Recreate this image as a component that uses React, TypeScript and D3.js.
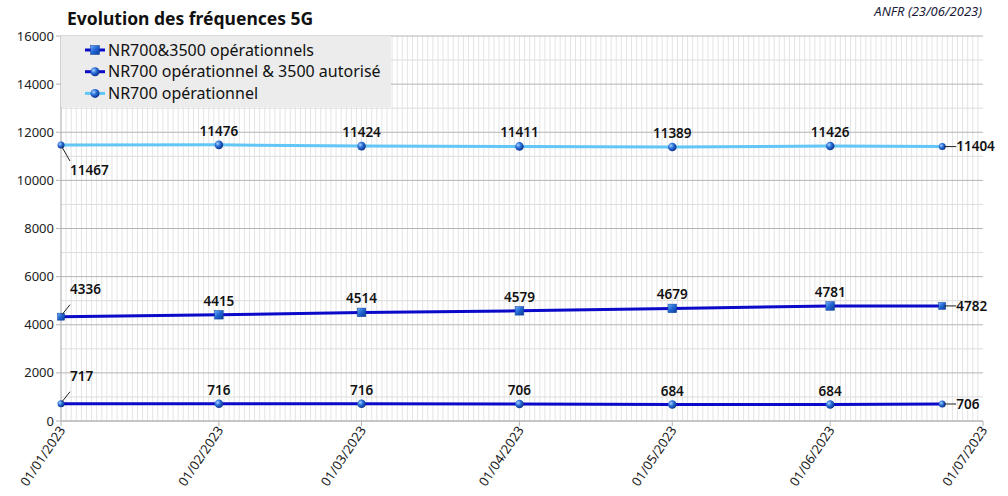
import * as d3 from 'd3';

const dates = ['2023-01-01', '2023-02-01', '2023-03-01', '2023-04-01', '2023-05-01', '2023-06-01', '2023-06-23'];
const nr700And3500Op = [4336, 4415, 4514, 4579, 4679, 4781, 4782];
const nr700OpAnd3500Aut = [717, 716, 716, 706, 684, 684, 706];
const nr700Op = [11467, 11476, 11424, 11411, 11389, 11426, 11404];
const seriesNames = ['NR700&3500 opérationnels', 'NR700 opérationnel & 3500 autorisé', 'NR700 opérationnel'];
const yTicks = [0, 2000, 4000, 6000, 8000, 10000, 12000, 14000, 16000];

const W = 1008;
const H = 496;
const left = 61;
const right = 983;
const top = 36;
const bottom = 421;
const font = "'Noto Sans', 'Open Sans', sans-serif";

const parse = d3.timeParse('%Y-%m-%d');
const x = d3.scaleTime().domain([parse('2023-01-01')!, parse('2023-07-01')!]).range([left, right]);
const y = d3.scaleLinear().domain([0, 16000]).range([bottom, top]);
const fmtTick = d3.timeFormat('%d/%m/%Y');

const series = [
    { name: seriesNames[0], values: nr700And3500Op, color: '#0a0ac8', marker: 'square' },
    { name: seriesNames[1], values: nr700OpAnd3500Aut, color: '#0a0ac8', marker: 'sphere' },
    { name: seriesNames[2], values: nr700Op, color: '#62c6f6', marker: 'sphere' },
];

function Marker({ cx, cy, kind, r }: { cx: number; cy: number; kind: string; r: number }) {
    if (kind === 'square') {
        return <rect x={cx - r} y={cy - r} width={r * 2} height={r * 2} fill="url(#cube)" stroke="#0a3f9a" strokeWidth={0.5} />;
    }
    return <circle cx={cx} cy={cy} r={r} fill="url(#sphere)" />;
}

export default function App() {
    const monthTicks = x.ticks(d3.timeMonth.every(1)!);
    const days = d3.timeDay.range(x.domain()[0], x.domain()[1]);
    const minorY = d3.range(0, 16001, 1000);
    const line = d3.line<[Date, number]>().x((d) => x(d[0])).y((d) => y(d[1]));
    const pts = dates.map((d) => parse(d)!);
    const last = pts.length - 1;

    return (
        <svg width={W} height={H} style={{ position: 'absolute', left: 0, top: 0, background: '#fff' }} fontFamily={font}>
            <defs>
                <radialGradient id="sphere" cx="0.35" cy="0.35" r="0.7">
                    <stop offset="0" stopColor="#a9d2ff" />
                    <stop offset="0.45" stopColor="#2a6fd8" />
                    <stop offset="1" stopColor="#0a2f86" />
                </radialGradient>
                <linearGradient id="cube" x1="0" y1="0" x2="1" y2="1">
                    <stop offset="0" stopColor="#6fb0ff" />
                    <stop offset="0.5" stopColor="#1f64d0" />
                    <stop offset="1" stopColor="#0b3a95" />
                </linearGradient>
            </defs>

            {/* grid */}
            {days.map((d, i) => (
                <line key={'vd' + i} x1={x(d)} x2={x(d)} y1={top} y2={bottom} stroke="#e4e4e4" strokeWidth={1} />
            ))}
            {minorY.map((v) => (
                <line key={'hy' + v} x1={left} x2={right} y1={y(v)} y2={y(v)}
                    stroke={v % 2000 === 0 ? '#b4b4b4' : '#dcdcdc'} strokeWidth={1} />
            ))}

            {/* axes */}
            <line x1={left} x2={left} y1={top} y2={bottom} stroke="#b4b4b4" />
            <line x1={left} x2={right} y1={bottom} y2={bottom} stroke="#b4b4b4" />
            {yTicks.map((v) => (
                <g key={'yt' + v}>
                    <line x1={left - 5} x2={left} y1={y(v)} y2={y(v)} stroke="#b4b4b4" />
                    <text x={54} y={y(v)} dy="0.35em" textAnchor="end" fontSize={13} fill="#222">{v}</text>
                </g>
            ))}
            {monthTicks.map((d, i) => (
                <g key={'xt' + i}>
                    <line x1={x(d)} x2={x(d)} y1={bottom} y2={bottom + 5} stroke="#b4b4b4" />
                    <text transform={`translate(${x(d) + 5},${bottom + 9}) rotate(-56)`} textAnchor="end" fontSize={13} fill="#222">
                        {fmtTick(d)}
                    </text>
                </g>
            ))}

            {/* legend */}
            <rect x={left} y={top} width={330} height={71} fill="#ececec" />
            {series.map((s, i) => {
                const ly = 50 + i * 21.7;
                return (
                    <g key={'lg' + i}>
                        <line x1={85} x2={105} y1={ly} y2={ly} stroke={s.color} strokeWidth={3} />
                        <Marker cx={95} cy={ly} kind={s.marker} r={4.5} />
                        <text x={108} y={ly} dy="0.35em" fontSize={16} fill="#111">{s.name}</text>
                    </g>
                );
            })}

            {/* series */}
            {series.map((s, si) => {
                const data = pts.map((d, i) => [d, s.values[i]] as [Date, number]);
                return (
                    <g key={'s' + si}>
                        <path d={line(data)!} fill="none" stroke={s.color} strokeWidth={3} />
                        {data.map((d, i) => (
                            <Marker key={i} cx={x(d[0])} cy={y(d[1])} kind={s.marker}
                                r={i === 0 || i === last ? 3.5 : 4.3} />
                        ))}
                        {data.map((d, i) => {
                            const px = x(d[0]);
                            const py = y(d[1]);
                            if (i === 0) {
                                const below = si === 2;
                                return (
                                    <g key={'l' + i}>
                                        <line x1={px + 1} y1={below ? py + 2 : py - 2} x2={px + 9} y2={below ? py + 16 : py - 12} stroke="#222" />
                                        <text x={px + 9} y={below ? py + 30 : py - 23} fontSize={13.5} fontWeight={600} fill="#111">{d[1]}</text>
                                    </g>
                                );
                            }
                            if (i === last) {
                                return (
                                    <g key={'l' + i}>
                                        <line x1={px + 2} y1={py} x2={px + 14} y2={py} stroke="#222" />
                                        <text x={px + 14} y={py} dy="0.35em" fontSize={13.5} fontWeight={600} fill="#111">{d[1]}</text>
                                    </g>
                                );
                            }
                            return (
                                <text key={'l' + i} x={px} y={py - 9} textAnchor="middle" fontSize={13.5} fontWeight={600} fill="#111">{d[1]}</text>
                            );
                        })}
                    </g>
                );
            })}

            {/* titles */}
            <text x={67} y={25} fontSize={17.5} fontWeight={700} fill="#111">Evolution des fréquences 5G</text>
            <text x={982} y={16} textAnchor="end" fontSize={13} fontStyle="italic" fill="#1a1a3a">ANFR (23/06/2023)</text>
        </svg>
    );
}
